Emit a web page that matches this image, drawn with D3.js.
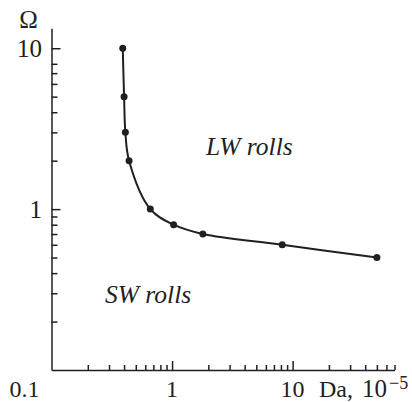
<!DOCTYPE html>
<html>
<head>
<meta charset="utf-8">
<script src="https://cdn.jsdelivr.net/npm/d3@7"></script>
<style>
  body { margin: 0; background: #fff; }
  text { font-family: "Liberation Serif", "Times New Roman", serif; fill: #231f20; }
</style>
</head>
<body>
<div id="chart"></div>
<script>
// data
const da = [0.39, 0.40, 0.41, 0.44, 0.66, 1.03, 1.8, 8.2, 50];
const omega = [10, 5, 3, 2, 1, 0.8, 0.7, 0.6, 0.5];

const xMajor = [1, 10];
const xMinor = [0.2, 0.3, 0.4, 0.5, 0.6, 0.7, 0.8, 0.9, 2, 3, 4, 5, 6, 7, 8, 9, 20, 30, 40, 50, 60, 70];
const xLabels = ["0.1", "1", "10"];
const yMajor = [1, 10];
const yMinor = [0.2, 0.3, 0.4, 0.5, 0.6, 0.7, 0.8, 0.9, 2, 3, 4, 5, 6, 7, 8];
const yLabels = ["1", "10"];

const width = 412, height = 402;
const ink = '#231f20';
const labelBase = 396.5; // keep descent inside the frame

const x = d3.scaleLog().domain([0.1, 70]).range([51.5, 394.5]);
const y = d3.scaleLog().domain([0.1, 13.3]).range([370, 28.3]);

const svg = d3.create('svg')
    .attr('width', width)
    .attr('height', height);

// x axis: minor ticks, then major ticks with the domain line
svg.append('g')
    .attr('transform', `translate(0, ${y.range()[0]})`)
    .call(d3.axisBottom(x).tickValues(xMinor).tickSize(-5).tickSizeOuter(0).tickFormat(''))
    .call(g => g.select('.domain').remove());
svg.append('g')
    .attr('transform', `translate(0, ${y.range()[0]})`)
    .call(d3.axisBottom(x).tickValues(xMajor).tickSize(-9).tickSizeOuter(0).tickFormat(''));

// y axis
svg.append('g')
    .attr('transform', `translate(${x.range()[0]}, 0)`)
    .call(d3.axisLeft(y).tickValues(yMinor).tickSize(-6).tickSizeOuter(0).tickFormat(''))
    .call(g => g.select('.domain').remove());
svg.append('g')
    .attr('transform', `translate(${x.range()[0]}, 0)`)
    .call(d3.axisLeft(y).tickValues(yMajor).tickSize(-9).tickSizeOuter(0).tickFormat(''));

svg.selectAll('.domain, .tick line')
    .attr('stroke', ink)
    .attr('stroke-width', 1.5);

// x tick labels (0.1 sits left of the corner)
[0.1, 1, 10].forEach((v, i) => {
    svg.append('text')
        .attr('x', v === 0.1 ? x(v) - 12 : x(v))
        .attr('y', labelBase)
        .attr('text-anchor', v === 0.1 ? 'end' : 'middle')
        .attr('font-size', 24)
        .text(xLabels[i]);
});

// y tick labels
yMajor.forEach((v, i) => {
    svg.append('text')
        .attr('x', 42)
        .attr('y', y(v) + 9)
        .attr('text-anchor', 'end')
        .attr('font-size', 25)
        .text(yLabels[i]);
});

// axis titles
svg.append('text')
    .attr('x', 28.5)
    .attr('y', 28.3)
    .attr('text-anchor', 'middle')
    .attr('font-size', 25)
    .text('Ω');

svg.append('text')
    .attr('x', 319)
    .attr('y', labelBase)
    .attr('font-size', 24)
    .text('Da,');
svg.append('text')
    .attr('x', 362)
    .attr('y', labelBase)
    .attr('font-size', 25)
    .text('10');
svg.append('text')
    .attr('x', 389)
    .attr('y', labelBase - 7.5)
    .attr('font-size', 18)
    .text('−5');

// region labels
svg.append('text')
    .attr('x', 206)
    .attr('y', 154.5)
    .attr('font-size', 25.5)
    .attr('font-style', 'italic')
    .text('LW rolls');
svg.append('text')
    .attr('x', 105)
    .attr('y', 302.5)
    .attr('font-size', 25.5)
    .attr('font-style', 'italic')
    .text('SW rolls');

// boundary curve
const points = da.map((d, i) => ({ da: d, om: omega[i] }));
const line = d3.line()
    .x(d => x(d.da))
    .y(d => y(d.om))
    .curve(d3.curveCatmullRom.alpha(0.5));

svg.append('path')
    .datum(points)
    .attr('fill', 'none')
    .attr('stroke', ink)
    .attr('stroke-width', 2)
    .attr('d', line);

svg.selectAll('circle.pt')
    .data(points)
    .join('circle')
    .attr('class', 'pt')
    .attr('cx', d => x(d.da))
    .attr('cy', d => y(d.om))
    .attr('r', 3.5)
    .attr('fill', ink);

document.getElementById('chart').appendChild(svg.node());
</script>
</body>
</html>
